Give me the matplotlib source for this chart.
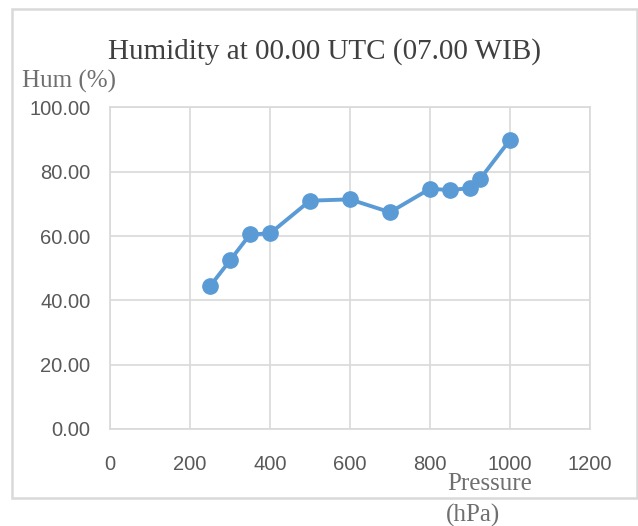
import matplotlib
matplotlib.use("Agg")
import matplotlib.pyplot as plt
from matplotlib.patches import Rectangle
from matplotlib.ticker import FuncFormatter

# Upper-air humidity profile
pressure = [250, 300, 350, 400, 500, 600, 700, 800, 850, 900, 925, 1000]
humidity = [44.4, 52.4, 60.5, 60.8, 71.0, 71.4, 67.4, 74.7, 74.3, 74.9, 77.7, 89.9]

x_ticks = [0, 200, 400, 600, 800, 1000, 1200]
y_ticks = [0, 20, 40, 60, 80, 100]

serif = ["Liberation Serif", "DejaVu Serif"]
sans = ["Liberation Sans", "DejaVu Sans"]

fig = plt.figure(figsize=(6.38, 5.26), dpi=100)

# outer chart border
fig.patches.append(Rectangle((12 / 638, 1 - 498 / 526), 625 / 638, 489 / 526,
                             transform=fig.transFigure, fill=False,
                             edgecolor="#d9d9d9", linewidth=1.8))

ax = fig.add_axes([110 / 638, 1 - 429 / 526, 480 / 638, 321.6 / 526])

ax.plot(pressure, humidity, color="#5b9bd5", linewidth=2.8,
        marker="o", markersize=11, zorder=3)

ax.set_xlim(0, 1200)
ax.set_ylim(0, 100)
ax.set_xticks(x_ticks)
ax.set_yticks(y_ticks)
ax.yaxis.set_major_formatter(FuncFormatter(lambda v, _: f"{v:.2f}"))

ax.grid(True, color="#d9d9d9", linewidth=1.2)
ax.set_axisbelow(True)
for s in ax.spines.values():
    s.set_color("#d9d9d9")
    s.set_linewidth(1.2)

ax.tick_params(length=0, labelsize=14.5, labelcolor="#595959")
ax.tick_params(axis="y", pad=14)
ax.tick_params(axis="x", pad=19)
for lab in ax.get_xticklabels() + ax.get_yticklabels():
    lab.set_family(sans)

fig.text(324 / 638, 1 - 52 / 526, "Humidity at 00.00 UTC (07.00 WIB)",
         ha="center", va="center", fontsize=21, color="#404040", family=serif)
fig.text(22 / 638, 1 - 81 / 526, "Hum (%)", ha="left", va="center",
         fontsize=18, color="#6f6f6f", family=serif)
fig.text(490 / 638, 1 - 484 / 526, "Pressure", ha="center", va="center",
         fontsize=18, color="#6f6f6f", family=serif)
fig.text(473 / 638, 1 - 515 / 526, "(hPa)", ha="center", va="center",
         fontsize=18, color="#6f6f6f", family=serif)

fig.savefig("out.png", dpi=100)
